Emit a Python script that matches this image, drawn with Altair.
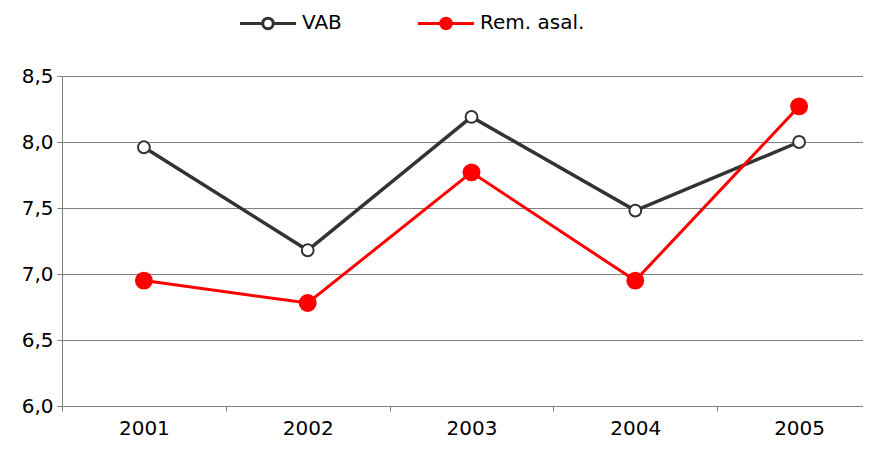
import altair as alt
import pandas as pd

years = ["2001", "2002", "2003", "2004", "2005"]
vab = [7.96, 7.18, 8.19, 7.48, 8.00]
rem = [6.95, 6.78, 7.77, 6.95, 8.27]
series_names = ["VAB", "Rem. asal."]
y_ticks = [6.0, 6.5, 7.0, 7.5, 8.0, 8.5]

rows = []
for name, vals in zip(series_names, [vab, rem]):
    for yr, v in zip(years, vals):
        rows.append({"year": yr, "value": v, "series": name})
df = pd.DataFrame(rows)

FONT = "DejaVu Sans"
stroke_scale = alt.Scale(domain=series_names, range=["#333333", "#ff0000"])
fill_scale = alt.Scale(domain=series_names, range=["#ffffff", "#ff0000"])

x_enc = alt.X(
    "year:N",
    title=None,
    scale=alt.Scale(paddingInner=0, paddingOuter=0, range=[0, 819]),
    axis=alt.Axis(
        labelAngle=0, tickBand="extent", tickSize=5, tickColor="#808080",
        domainColor="#808080", labelFontSize=20, labelFont=FONT, labelColor="#000000",
        labelPadding=7, grid=False,
    ),
)
y_enc = alt.Y(
    "value:Q",
    title=None,
    scale=alt.Scale(domain=[6.0, 8.5], nice=False, zero=False),
    axis=alt.Axis(
        values=y_ticks, labelExpr="replace(format(datum.value, '.1f'), '.', ',')",
        tickSize=5, tickColor="#808080", domainColor="#808080",
        grid=True, gridColor="#808080", gridWidth=1.2,
        labelFontSize=20, labelFont=FONT, labelColor="#000000", labelPadding=4,
    ),
)

legend_path = ("M-4,0H-0.75 M0.75,0H4 "
               "M-0.75,0A0.75,0.75 0 1,0 0.75,0A0.75,0.75 0 1,0 -0.75,0Z")

legend = alt.Legend(
    title=None, orient="none", direction="horizontal",
    legendX=196, legendY=-63, symbolType=legend_path, symbolSize=196,
    symbolStrokeWidth=3, labelFontSize=20, labelFont=FONT, labelColor="#000000",
    labelOffset=24, columnPadding=70, symbolOpacity=1,
)

base = alt.Chart(df)

lines = base.mark_line().encode(
    x=x_enc, y=y_enc,
    stroke=alt.Stroke("series:N", scale=stroke_scale, sort=series_names, legend=legend),
    strokeWidth=alt.condition("datum.series === 'VAB'", alt.value(3.5), alt.value(3)),
)

pts = base.mark_point(filled=True, opacity=1).encode(
    x=x_enc, y=y_enc,
    stroke=alt.Stroke("series:N", scale=stroke_scale, sort=series_names, legend=legend),
    fill=alt.Fill("series:N", scale=fill_scale, sort=series_names, legend=legend),
    size=alt.condition("datum.series === 'VAB'", alt.value(140), alt.value(320)),
    strokeWidth=alt.condition("datum.series === 'VAB'", alt.value(2), alt.value(0)),
)

chart = alt.layer(lines, pts).properties(
    width=801, height=330,
    autosize=alt.AutoSizeParams(type="none"),
    padding={"left": 54, "top": 68, "right": 0, "bottom": 34},
    background="#ffffff",
).configure_view(stroke=None)

chart.save("out.html", embed_options={"renderer": "svg", "actions": False})
